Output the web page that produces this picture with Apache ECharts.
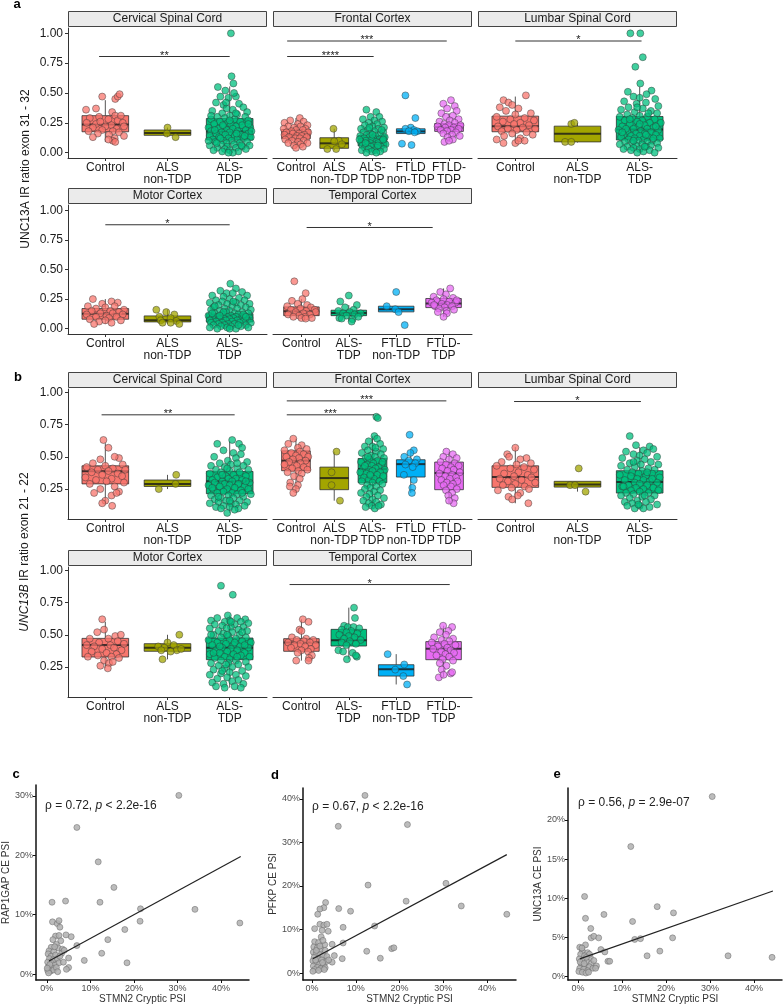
<!DOCTYPE html>
<html><head><meta charset="utf-8">
<script src="https://cdn.jsdelivr.net/npm/echarts@6/dist/echarts.min.js"></script>
<style>html,body{margin:0;padding:0;background:#fff}#c{width:784px;height:1006px}</style>
</head><body><div id="c"></div>
<script>
// ================= DATA =================
const cats3 = ['Control','ALS non-TDP','ALS-TDP'];
const cats5 = ['Control','ALS non-TDP','ALS-TDP','FTLD non-TDP','FTLD-TDP'];
const catsTemporal = ['Control','ALS-TDP','FTLD non-TDP','FTLD-TDP'];
const yTicksA = [0,0.25,0.5,0.75,1];
const yTicksB = [0.25,0.5,0.75,1];

// box stats per category: [min, q1, median, q3, max]
const aCervBox = [[0.09,0.175,0.235,0.31,0.44],[0.13,0.145,0.165,0.19,0.21],[0,0.106,0.178,0.286,0.555]];
const aFrontBox = [[0.04,0.117,0.153,0.194,0.29],[0.02,0.036,0.078,0.125,0.2],[0,0.056,0.097,0.144,0.27],[0.155,0.16,0.178,0.2,0.21],[0.09,0.178,0.214,0.244,0.33]];
const aLumbBox = [[0.08,0.175,0.222,0.306,0.47],[0.085,0.09,0.158,0.222,0.25],[0,0.106,0.194,0.303,0.55]];
const aMotorBox = [[0.04,0.08,0.127,0.17,0.25],[0.04,0.057,0.072,0.108,0.16],[0,0.057,0.093,0.127,0.23]];
const aTempBox = [[0.085,0.11,0.147,0.184,0.25],[0.06,0.11,0.133,0.156,0.2],[0.14,0.142,0.165,0.19,0.19],[0.1,0.178,0.212,0.255,0.34]];
const bCervBox = [[0.14,0.29,0.387,0.43,0.605],[0.25,0.27,0.29,0.32,0.36],[0.065,0.214,0.31,0.387,0.62]];
const bFrontBox = [[0.22,0.392,0.47,0.546,0.64],[0.16,0.245,0.335,0.42,0.54],[0.1,0.3,0.405,0.487,0.66],[0.22,0.343,0.443,0.477,0.55],[0.14,0.245,0.374,0.459,0.54]];
const bLumbBox = [[0.14,0.263,0.343,0.43,0.575],[0.23,0.265,0.285,0.31,0.31],[0.1,0.219,0.304,0.392,0.575]];
const bMotorBox = [[0.24,0.328,0.42,0.472,0.6],[0.31,0.372,0.4,0.431,0.5],[0.09,0.307,0.4,0.475,0.65]];
const bTempBox = [[0.3,0.372,0.441,0.47,0.62],[0.31,0.413,0.457,0.542,0.71],[0.115,0.18,0.232,0.268,0.35],[0.17,0.307,0.392,0.447,0.57]];

// jittered points: [x (category index + jitter), value]
const aCervPts = [
[-0.05,0.47],[0.16,0.45],[0.2,0.47],[0.23,0.49],[-0.31,0.36],[-0.15,0.37],[0.11,0.34],[0.16,0.31],
[-0.25,0.29],[-0.1,0.3],[0.05,0.28],[0.2,0.27],[-0.3,0.25],[0.28,0.25],[-0.15,0.24],[0.1,0.23],[0.0,0.22],
[-0.2,0.21],[0.18,0.2],[0.3,0.22],[-0.05,0.19],[0.12,0.18],[-0.27,0.18],[0.22,0.17],[-0.12,0.16],[0.06,0.15],
[0.3,0.14],[-0.2,0.13],[0.15,0.12],[0.12,0.1],[0.16,0.09],[0.05,0.11],[-0.08,0.26],[0.25,0.31],
[1.0,0.21],[0.99,0.16],[1.13,0.13],
[2.02,1.0],[2.03,0.64],[2.06,0.58],[1.81,0.55],[1.93,0.52],[2.1,0.47],[1.85,0.47],[1.98,0.46],[1.78,0.42],[2.15,0.41],
[1.9,0.4],[2.22,0.38],[1.95,0.37],[2.05,0.36],[1.72,0.35],[2.28,0.34],[1.88,0.33],[2.12,0.32],[2.0,0.31],[1.8,0.3],
[2.25,0.3],[1.92,0.29],[2.08,0.28],[1.7,0.28],[2.3,0.27],[1.84,0.26],[2.17,0.26],[1.97,0.25],[2.02,0.24],[1.75,0.24],
[2.2,0.23],[1.9,0.22],[2.1,0.22],[1.66,0.21],[2.33,0.21],[1.82,0.2],[2.05,0.2],[1.95,0.19],[2.26,0.19],[1.7,0.18],
[2.13,0.18],[1.87,0.17],[2.0,0.17],[2.3,0.16],[1.78,0.16],[2.18,0.15],[1.93,0.15],[1.68,0.14],[2.08,0.14],[2.34,0.13],
[1.83,0.13],[1.98,0.12],[2.22,0.12],[1.73,0.11],[2.12,0.11],[1.9,0.1],[2.03,0.1],[2.28,0.09],[1.77,0.09],[1.95,0.08],
[2.16,0.08],[1.86,0.07],[2.07,0.07],[1.68,0.06],[2.32,0.06],[1.96,0.05],[2.2,0.05],[1.8,0.04],[2.1,0.04],[1.92,0.03],
[2.26,0.03],[2.0,0.02],[1.74,0.02],[2.14,0.01],[1.88,0.01],[2.05,0.0],[1.98,0.0],[2.3,0.24],[1.7,0.31],[2.24,0.14],
[1.76,0.19],[2.0,0.27],[2.35,0.18],[1.66,0.1],[2.1,0.33],[1.85,0.12],[2.19,0.06],[1.94,0.42],[2.07,0.5],[1.89,0.23],
[2.11,0.16],[1.79,0.08]];
const aFrontPts = [
[0.1,0.29],[-0.15,0.27],[0.2,0.26],[-0.3,0.25],[0.05,0.24],[0.3,0.23],[-0.2,0.22],[0.12,0.22],[-0.05,0.21],[0.25,0.2],
[-0.32,0.2],[0.0,0.19],[0.18,0.19],[-0.12,0.18],[0.32,0.17],[-0.25,0.17],[0.08,0.16],[-0.08,0.16],[0.22,0.15],[-0.3,0.15],
[0.03,0.14],[0.15,0.14],[-0.18,0.13],[0.28,0.13],[-0.02,0.12],[0.1,0.12],[-0.28,0.11],[0.2,0.1],[-0.1,0.1],[0.05,0.09],
[-0.2,0.08],[0.3,0.08],[0.12,0.07],[-0.05,0.06],[0.0,0.04],[0.18,0.05],
[0.98,0.2],[1.12,0.1],[1.0,0.095],[0.82,0.03],[1.05,0.03],[1.2,0.07],
[1.84,0.36],[2.1,0.34],[2.18,0.3],[1.95,0.3],[1.75,0.28],[2.05,0.27],[2.25,0.26],[1.9,0.25],[2.12,0.24],[1.8,0.23],
[2.0,0.22],[2.3,0.21],[1.7,0.2],[2.15,0.2],[1.88,0.19],[2.05,0.18],[2.28,0.17],[1.76,0.17],[1.95,0.16],[2.2,0.15],
[1.85,0.15],[2.08,0.14],[1.68,0.14],[2.32,0.13],[1.92,0.13],[2.02,0.12],[1.78,0.12],[2.18,0.11],[1.98,0.11],[2.26,0.1],
[1.83,0.1],[2.1,0.09],[1.7,0.09],[1.94,0.08],[2.15,0.08],[2.34,0.07],[1.86,0.07],[2.04,0.06],[1.74,0.06],[2.22,0.05],
[1.96,0.05],[2.12,0.04],[1.8,0.04],[2.3,0.03],[1.9,0.03],[2.06,0.02],[1.72,0.02],[2.2,0.01],[1.98,0.01],[1.84,0.0],
[2.1,0.0],[2.0,0.15],[2.28,0.11],[1.66,0.11],[1.92,0.21],[2.14,0.06],[1.82,0.08],[2.24,0.19],
[2.86,0.48],[3.12,0.29],[3.0,0.21],[2.86,0.2],[3.08,0.19],[3.17,0.18],[2.95,0.18],[3.1,0.17],[2.77,0.075],[3.02,0.064],
[4.05,0.44],[3.85,0.41],[4.15,0.39],[3.95,0.37],[4.2,0.35],[3.8,0.33],[4.1,0.31],[3.92,0.3],[4.25,0.28],[4.02,0.27],
[3.75,0.26],[4.15,0.25],[3.88,0.24],[4.3,0.23],[4.0,0.23],[3.7,0.22],[4.12,0.21],[3.9,0.21],[4.25,0.2],[4.05,0.19],
[3.78,0.19],[3.95,0.18],[4.18,0.17],[3.85,0.16],[4.08,0.15],[4.28,0.14],[3.96,0.13],[4.1,0.11],[3.88,0.09],[4.0,0.1]];
const aLumbPts = [
[0.17,0.48],[-0.19,0.44],[-0.11,0.42],[-0.05,0.4],[-0.25,0.38],[0.05,0.37],[-0.15,0.35],[0.25,0.33],[0.0,0.32],[-0.3,0.3],
[0.15,0.29],[-0.08,0.28],[0.3,0.27],[-0.2,0.26],[0.08,0.25],[-0.02,0.24],[0.22,0.23],[-0.28,0.22],[0.12,0.21],[-0.12,0.2],
[0.32,0.2],[0.02,0.19],[-0.22,0.18],[0.18,0.17],[-0.05,0.16],[0.28,0.15],[-0.18,0.14],[0.08,0.12],[-0.3,0.11],[0.15,0.1],
[-0.19,0.08],[0.0,0.08],[0.05,0.1],
[0.9,0.24],[0.95,0.25],[0.8,0.09],[0.9,0.09],
[1.85,1.0],[2.01,1.0],[2.05,0.8],[1.93,0.72],[2.01,0.58],[1.81,0.51],[2.19,0.52],[2.11,0.49],[1.9,0.47],[2.25,0.45],
[2.0,0.46],[1.75,0.43],[2.1,0.42],[1.95,0.41],[2.3,0.39],[1.82,0.38],[2.05,0.37],[1.7,0.36],[2.18,0.35],[1.92,0.34],
[2.28,0.33],[1.8,0.32],[2.0,0.31],[2.12,0.3],[1.68,0.3],[1.88,0.29],[2.24,0.28],[2.04,0.27],[1.76,0.27],[1.96,0.26],
[2.16,0.25],[2.34,0.25],[1.84,0.24],[2.08,0.23],[1.72,0.22],[1.98,0.22],[2.22,0.21],[1.9,0.2],[2.12,0.2],[1.66,0.19],
[2.3,0.19],[2.02,0.18],[1.8,0.18],[2.18,0.17],[1.94,0.16],[2.08,0.16],[1.74,0.15],[2.26,0.15],[1.86,0.14],[2.0,0.14],
[2.14,0.13],[1.7,0.13],[2.32,0.12],[1.92,0.12],[2.06,0.11],[1.82,0.11],[2.2,0.1],[1.98,0.1],[1.76,0.09],[2.12,0.09],
[2.28,0.08],[1.88,0.08],[2.04,0.07],[1.68,0.07],[2.18,0.06],[1.94,0.06],[1.8,0.05],[2.1,0.05],[2.3,0.04],[1.9,0.04],
[2.0,0.03],[1.74,0.03],[2.16,0.02],[1.86,0.02],[2.06,0.01],[1.96,0.0],[2.24,0.0],[2.0,0.24],[1.78,0.2],[2.26,0.22],
[1.9,0.1],[2.1,0.15],[1.84,0.28],[2.14,0.33],[1.96,0.38],[2.22,0.12],[1.72,0.17],[2.08,0.05]];
const aMotorPts = [
[-0.2,0.25],[0.1,0.23],[0.2,0.22],[-0.05,0.21],[-0.28,0.19],[0.15,0.19],[0.0,0.18],[-0.15,0.17],[0.3,0.16],[0.08,0.15],
[-0.22,0.15],[0.22,0.14],[-0.08,0.13],[0.12,0.13],[0.28,0.12],[-0.3,0.12],[0.02,0.11],[-0.15,0.1],[0.18,0.1],[0.06,0.09],
[-0.25,0.08],[0.25,0.07],[-0.1,0.06],[0.1,0.05],[-0.18,0.04],[0.0,0.07],
[0.82,0.16],[0.98,0.14],[1.11,0.12],[0.87,0.1],[1.05,0.09],[0.89,0.07],[1.14,0.065],[0.92,0.05],[1.05,0.05],[1.19,0.04],
[2.01,0.38],[2.1,0.34],[1.85,0.32],[2.2,0.31],[1.95,0.3],[2.05,0.3],[1.72,0.28],[2.28,0.28],[1.9,0.27],[2.15,0.26],
[2.0,0.25],[1.78,0.24],[2.24,0.24],[1.88,0.23],[2.1,0.22],[1.68,0.22],[2.32,0.21],[1.96,0.21],[1.82,0.2],[2.18,0.2],
[2.04,0.19],[1.74,0.18],[2.26,0.18],[1.92,0.17],[2.12,0.17],[1.7,0.16],[2.34,0.16],[2.0,0.15],[1.84,0.15],[2.2,0.14],
[1.94,0.14],[2.08,0.13],[1.76,0.13],[2.3,0.13],[1.88,0.12],[2.14,0.12],[2.02,0.11],[1.66,0.11],[2.24,0.11],[1.8,0.1],
[1.96,0.1],[2.1,0.1],[2.32,0.09],[1.72,0.09],[1.9,0.09],[2.06,0.09],[2.18,0.08],[1.84,0.08],[2.0,0.08],[1.68,0.07],
[2.28,0.07],[1.94,0.07],[2.12,0.07],[1.78,0.06],[2.04,0.06],[2.22,0.06],[1.88,0.05],[1.7,0.05],[2.16,0.05],[2.34,0.05],
[1.98,0.04],[1.82,0.04],[2.08,0.04],[2.26,0.03],[1.92,0.03],[1.74,0.03],[2.02,0.02],[2.18,0.02],[1.86,0.02],[2.3,0.01],
[1.96,0.01],[1.68,0.01],[2.1,0.0],[1.8,0.0],[2.0,0.0],[2.22,0.12],[1.76,0.19],[2.06,0.23],[1.9,0.14],[2.14,0.03],
[1.84,0.11],[2.26,0.1],[1.72,0.13]];
const aTempPts = [
[-0.15,0.4],[0.09,0.3],[-0.2,0.235],[0.02,0.25],[-0.08,0.21],[0.12,0.2],[-0.3,0.19],[0.2,0.18],[-0.02,0.17],[0.28,0.16],
[-0.22,0.16],[0.1,0.15],[-0.12,0.14],[0.3,0.14],[0.04,0.13],[-0.28,0.12],[0.18,0.12],[-0.05,0.11],[0.08,0.1],[-0.17,0.1],
[0.22,0.09],[0.0,0.09],[0.09,0.085],
[1.0,0.28],[0.82,0.23],[1.17,0.2],[0.92,0.18],[1.1,0.16],[0.78,0.15],[1.02,0.14],[1.25,0.13],[0.88,0.13],[1.12,0.12],
[0.95,0.11],[0.8,0.09],[1.08,0.08],[0.85,0.085],[1.2,0.1],[1.06,0.06],
[2.0,0.31],[1.8,0.19],[1.98,0.165],[2.05,0.14],[2.18,0.03],
[3.14,0.34],[2.93,0.31],[3.05,0.29],[2.79,0.27],[3.2,0.26],[3.0,0.25],[2.85,0.24],[3.12,0.23],[2.75,0.22],[3.25,0.22],
[2.96,0.21],[3.08,0.2],[2.82,0.19],[3.18,0.19],[3.02,0.18],[2.9,0.17],[3.22,0.16],[3.06,0.15],[2.88,0.14],[3.07,0.13],
[3.0,0.1],[3.28,0.24],[2.8,0.2]];
const bCervPts = [
[-0.03,0.63],[0.05,0.57],[0.22,0.49],[-0.08,0.48],[0.15,0.5],[-0.2,0.45],[0.28,0.44],[0.0,0.43],[-0.3,0.42],[0.12,0.41],
[-0.12,0.4],[0.32,0.4],[0.05,0.39],[-0.22,0.38],[0.2,0.37],[-0.05,0.36],[0.27,0.35],[-0.32,0.34],[0.1,0.33],[-0.15,0.32],
[0.02,0.31],[0.3,0.3],[-0.25,0.29],[0.15,0.27],[-0.08,0.25],[0.22,0.23],[-0.18,0.22],[0.1,0.2],[0.18,0.22],[0.0,0.16],
[-0.05,0.14],[0.11,0.12],
[1.14,0.36],[1.13,0.29],[0.86,0.25],
[2.04,0.63],[2.15,0.6],[1.8,0.6],[2.2,0.57],[2.06,0.53],[2.18,0.52],[1.9,0.55],[1.75,0.5],[2.1,0.49],[1.97,0.47],
[2.28,0.46],[1.84,0.45],[2.02,0.44],[1.7,0.43],[2.22,0.43],[1.92,0.42],[2.12,0.41],[1.78,0.4],[2.3,0.4],[2.0,0.39],
[1.86,0.38],[2.16,0.38],[1.68,0.37],[2.06,0.36],[1.94,0.35],[2.26,0.35],[1.8,0.34],[2.1,0.33],[1.98,0.33],[1.72,0.32],
[2.2,0.32],[1.88,0.31],[2.04,0.31],[2.32,0.3],[1.76,0.3],[2.14,0.29],[1.92,0.29],[2.0,0.28],[1.66,0.28],[2.24,0.27],
[1.84,0.27],[2.08,0.26],[1.96,0.25],[2.3,0.25],[1.74,0.24],[2.18,0.24],[1.9,0.23],[2.04,0.22],[1.8,0.22],[2.12,0.21],
[2.34,0.21],[1.7,0.2],[1.98,0.2],[2.22,0.19],[1.86,0.18],[2.06,0.18],[1.76,0.17],[2.16,0.16],[1.94,0.16],[2.28,0.15],
[1.82,0.15],[2.02,0.14],[1.68,0.14],[2.1,0.13],[1.9,0.12],[2.24,0.12],[1.78,0.11],[2.0,0.11],[2.14,0.1],[1.86,0.1],
[1.96,0.065],[2.08,0.09],[1.72,0.26],[2.26,0.31],[1.88,0.36],[2.12,0.45],[1.96,0.41],[1.82,0.19],[2.2,0.22],[2.0,0.16]];
const bFrontPts = [
[-0.07,0.64],[0.15,0.59],[-0.2,0.6],[0.05,0.57],[0.28,0.56],[-0.3,0.55],[0.1,0.54],[-0.12,0.53],[0.2,0.52],[0.0,0.51],
[-0.25,0.5],[0.32,0.5],[0.08,0.49],[-0.08,0.48],[0.25,0.47],[-0.18,0.46],[0.12,0.45],[-0.3,0.44],[0.02,0.43],[0.2,0.42],
[-0.1,0.41],[0.3,0.4],[0.06,0.39],[-0.22,0.38],[0.15,0.37],[-0.05,0.35],[0.1,0.33],[-0.15,0.3],[0.05,0.28],[-0.16,0.27],
[0.0,0.25],[-0.07,0.22],
[1.06,0.54],[0.93,0.38],[0.93,0.28],[1.15,0.16],
[2.1,0.81],[2.14,0.8],[2.05,0.66],[2.12,0.64],[1.9,0.62],[2.2,0.6],[1.8,0.58],[2.0,0.58],[2.28,0.56],[1.88,0.55],
[2.1,0.54],[1.72,0.53],[2.22,0.52],[1.96,0.51],[2.06,0.5],[1.82,0.49],[2.3,0.49],[1.92,0.48],[2.14,0.47],[1.7,0.46],
[2.02,0.45],[2.24,0.44],[1.86,0.44],[1.98,0.43],[2.16,0.42],[1.76,0.41],[2.08,0.41],[2.32,0.4],[1.9,0.4],[2.0,0.39],
[1.68,0.38],[2.2,0.38],[1.84,0.37],[2.12,0.36],[1.96,0.35],[2.28,0.35],[1.78,0.34],[2.04,0.33],[1.9,0.32],[2.18,0.31],
[1.72,0.31],[2.0,0.3],[2.26,0.29],[1.86,0.28],[2.1,0.27],[1.94,0.26],[1.8,0.25],[2.2,0.24],[2.04,0.23],[1.7,0.22],
[1.92,0.21],[2.14,0.2],[1.84,0.19],[2.3,0.18],[2.0,0.17],[1.76,0.16],[2.1,0.15],[1.9,0.14],[2.22,0.13],[1.98,0.12],
[1.82,0.11],[2.06,0.1],[2.16,0.12],[1.88,0.5],[2.08,0.57],[1.8,0.43],[2.26,0.46],[1.94,0.36],
[2.97,0.67],[3.08,0.55],[2.99,0.53],[2.83,0.5],[3.16,0.48],[2.95,0.47],[3.12,0.45],[2.86,0.44],[3.05,0.42],[2.82,0.36],
[3.08,0.32],[3.04,0.26],[3.03,0.22],
[3.93,0.54],[4.1,0.52],[3.85,0.5],[4.2,0.49],[4.0,0.48],[3.78,0.46],[4.15,0.45],[3.92,0.44],[4.25,0.43],[4.05,0.42],
[3.82,0.41],[4.12,0.4],[3.96,0.39],[4.28,0.38],[3.75,0.37],[4.08,0.36],[3.9,0.35],[4.18,0.34],[4.02,0.33],[3.8,0.32],
[4.22,0.31],[3.94,0.3],[4.1,0.29],[3.86,0.28],[4.05,0.27],[4.2,0.25],[3.92,0.24],[4.08,0.22],[3.98,0.2],[4.15,0.18],
[4.12,0.14],[4.0,0.16]];
const bLumbPts = [
[0.0,0.57],[-0.13,0.52],[-0.1,0.5],[0.18,0.49],[0.08,0.48],[-0.22,0.46],[0.25,0.45],[0.02,0.44],[-0.3,0.43],[0.14,0.42],
[-0.08,0.41],[0.3,0.4],[0.05,0.38],[-0.18,0.37],[0.2,0.36],[-0.02,0.35],[0.26,0.34],[-0.25,0.33],[0.1,0.32],[-0.12,0.31],
[0.32,0.3],[0.0,0.29],[-0.2,0.28],[0.15,0.27],[-0.06,0.26],[0.22,0.25],[-0.28,0.24],[0.08,0.22],[-0.11,0.19],[-0.05,0.17],
[0.21,0.14],[0.04,0.2],
[1.02,0.41],[0.88,0.28],[0.96,0.28],[1.13,0.23],
[1.84,0.66],[1.94,0.59],[2.16,0.58],[2.22,0.56],[2.06,0.55],[1.78,0.54],[2.12,0.53],[1.9,0.52],[2.0,0.51],[2.28,0.5],
[1.72,0.49],[2.08,0.48],[1.96,0.47],[2.18,0.46],[1.84,0.45],[2.3,0.44],[2.02,0.44],[1.7,0.43],[1.92,0.42],[2.14,0.41],
[1.8,0.4],[2.24,0.4],[2.04,0.39],[1.88,0.38],[1.98,0.37],[2.2,0.37],[1.68,0.36],[2.1,0.35],[1.86,0.35],[2.32,0.34],
[1.96,0.33],[2.06,0.32],[1.76,0.32],[2.16,0.31],[1.92,0.3],[2.28,0.3],[2.0,0.29],[1.82,0.28],[2.12,0.28],[1.72,0.27],
[2.22,0.26],[1.94,0.26],[2.06,0.25],[1.86,0.24],[2.3,0.24],[2.0,0.23],[1.78,0.22],[2.14,0.22],[1.9,0.21],[2.24,0.2],
[1.7,0.2],[2.04,0.19],[1.84,0.18],[2.18,0.17],[1.96,0.16],[1.76,0.15],[2.1,0.15],[1.88,0.14],[2.28,0.13],[2.0,0.12],
[1.8,0.12],[2.16,0.11],[1.92,0.1],[2.06,0.1],[1.74,0.27],[2.2,0.33],[1.9,0.46],[2.08,0.2],[1.98,0.13],[2.12,0.38]];
const bMotorPts = [
[-0.05,0.62],[-0.02,0.54],[-0.13,0.52],[0.16,0.49],[0.25,0.5],[-0.25,0.47],[0.05,0.47],[0.2,0.45],[-0.1,0.44],[0.3,0.43],
[-0.3,0.42],[0.08,0.42],[-0.18,0.41],[0.14,0.4],[-0.05,0.39],[0.26,0.38],[-0.22,0.37],[0.02,0.36],[0.18,0.35],[-0.12,0.34],
[0.1,0.33],[-0.28,0.33],[0.22,0.32],[-0.02,0.3],[0.06,0.28],[-0.08,0.26],[0.04,0.24],[0.12,0.29],
[1.19,0.5],[1.0,0.44],[1.1,0.42],[0.85,0.41],[0.95,0.4],[1.15,0.38],[1.05,0.37],[0.92,0.31],[1.22,0.39],[0.9,0.38],
[1.86,0.88],[2.05,0.81],[1.97,0.65],[1.8,0.63],[2.12,0.63],[2.25,0.62],[1.7,0.61],[2.0,0.61],[1.92,0.6],[2.18,0.6],
[2.3,0.59],[1.76,0.58],[2.08,0.58],[1.88,0.57],[2.02,0.56],[2.22,0.56],[1.68,0.55],[1.95,0.55],[2.14,0.54],[1.82,0.53],
[2.28,0.53],[2.04,0.52],[1.9,0.51],[2.16,0.5],[1.74,0.5],[1.98,0.49],[2.26,0.48],[1.86,0.48],[2.1,0.47],[1.66,0.46],
[2.0,0.46],[2.2,0.45],[1.8,0.44],[2.34,0.44],[1.94,0.43],[2.06,0.42],[1.72,0.42],[2.16,0.41],[1.88,0.4],[2.3,0.4],
[2.02,0.39],[1.78,0.38],[2.12,0.38],[1.96,0.37],[2.24,0.36],[1.84,0.36],[1.68,0.35],[2.06,0.35],[2.18,0.34],[1.92,0.33],
[2.32,0.33],[1.76,0.32],[2.0,0.31],[2.1,0.3],[1.86,0.3],[2.26,0.29],[1.7,0.28],[1.98,0.28],[2.14,0.27],[1.82,0.26],
[2.04,0.25],[2.3,0.25],[1.92,0.24],[1.74,0.23],[2.2,0.22],[2.0,0.21],[1.86,0.2],[2.1,0.19],[1.68,0.19],[2.26,0.18],
[1.96,0.17],[1.8,0.16],[2.14,0.15],[2.04,0.14],[1.72,0.13],[2.22,0.12],[1.9,0.12],[1.78,0.1],[2.08,0.1],[2.18,0.09],
[1.92,0.09],[1.96,0.5],[2.08,0.44],[1.84,0.41],[2.2,0.52],[1.74,0.36],[2.12,0.33],[1.94,0.27],[2.02,0.6],[1.88,0.22],
[2.24,0.42],[1.7,0.5]];
const bTempPts = [
[0.03,0.62],[0.15,0.6],[-0.04,0.54],[0.0,0.53],[-0.2,0.48],[0.1,0.47],[0.25,0.46],[-0.1,0.46],[0.05,0.45],[-0.28,0.44],
[0.18,0.44],[-0.02,0.43],[0.3,0.42],[-0.15,0.42],[0.08,0.41],[-0.22,0.4],[0.2,0.39],[0.0,0.38],[0.14,0.37],[-0.08,0.36],
[0.22,0.34],[0.16,0.32],[-0.11,0.3],[0.15,0.3],
[1.11,0.71],[1.13,0.63],[0.9,0.57],[0.98,0.56],[1.1,0.56],[1.22,0.55],[0.85,0.54],[1.05,0.53],[0.95,0.52],[1.18,0.51],
[0.8,0.5],[1.0,0.49],[1.12,0.48],[0.9,0.47],[1.25,0.46],[1.02,0.45],[0.85,0.44],[1.15,0.43],[0.95,0.42],[0.78,0.38],
[0.88,0.37],[1.08,0.36],[1.17,0.33],[1.15,0.34],[0.96,0.31],
[1.82,0.35],[2.17,0.27],[1.98,0.23],[2.15,0.18],[2.23,0.115],
[2.99,0.57],[3.18,0.56],[3.1,0.53],[2.92,0.52],[3.05,0.5],[2.8,0.48],[3.2,0.47],[2.96,0.46],[3.12,0.45],[2.75,0.44],
[3.02,0.43],[3.25,0.42],[2.88,0.41],[3.08,0.4],[2.78,0.39],[3.15,0.38],[2.95,0.37],[3.22,0.36],[3.04,0.35],[2.85,0.34],
[3.12,0.33],[2.98,0.31],[3.2,0.3],[2.92,0.28],[3.06,0.26],[2.96,0.23],[3.15,0.2],[3.18,0.21],[2.9,0.17],[3.0,0.19]];

// significance bars: [x from, x to, y, label]
const aCervSig = [[-0.1,2,0.806,'**']];
const aFrontSig = [[-0.23,3.94,0.936,'***'],[-0.23,2.03,0.806,'****']];
const aLumbSig = [[0,2.03,0.936,'*']];
const aMotorSig = [[0,2,0.878,'*']];
const aTempSig = [[0.11,2.77,0.855,'*']];
const bCervSig = [[-0.06,2.08,0.825,'**']];
const bFrontSig = [[-0.24,3.93,0.933,'***'],[-0.24,2.04,0.825,'***']];
const bLumbSig = [[-0.02,2.02,0.928,'*']];
const bMotorSig = [];
const bTempSig = [[-0.25,3.13,0.889,'*']];

// scatter panels c, d, e  (STMN2 cryptic PSI %, CE PSI %)
const cPts = [[30.3,30.1],[6.9,24.7],[11.8,18.9],[15.4,14.6],[1.2,12.1],[4.3,12.3],[12.2,12.1],[21.5,11.0],[34.0,10.9],[44.3,8.6],
[21.4,8.9],[17.9,7.5],[14.0,5.8],[12.6,3.5],[8.6,2.3],[18.4,1.9],[6.9,4.8],[5.6,6.3],[4.4,6.6],[5.0,2.7],[5.0,1.1],[4.5,0.8],
[1.3,8.8],[2.4,8.5],[2.8,9.0],[3.0,7.9],[2.0,6.4],[2.8,6.5],[1.4,5.8],[3.2,5.6],[2.2,5.0],[1.0,4.5],[2.6,4.4],[3.6,4.2],
[0.5,3.9],[1.6,3.8],[0.3,3.4],[1.0,3.0],[2.0,3.2],[3.4,3.5],[0.6,2.6],[1.5,2.4],[2.4,2.6],[0.2,2.0],[1.1,1.8],[1.9,1.5],
[2.8,1.9],[0.4,1.2],[1.3,1.0],[0.2,0.6],[0.9,0.5],[1.6,0.7],[0.4,0.2],[2.2,1.1],[3.8,2.0],[1.8,4.6],[3.0,3.0],[0.7,1.6],
[2.5,0.4],[4.0,4.0],[0.1,1.0]];
const dPts = [[12.1,40.8],[6.0,33.7],[21.8,34.1],[12.8,20.2],[30.6,20.6],[21.5,16.5],[34.1,15.4],[44.5,13.5],[8.8,14.2],[6.1,14.8],
[3.1,16.2],[2.7,15.0],[1.8,14.7],[1.3,13.5],[1.8,11.2],[2.7,11.0],[3.4,11.2],[3.7,9.6],[2.3,9.8],[0.6,10.2],[7.1,10.5],
[14.3,10.8],[2.1,8.3],[0.6,7.2],[2.9,6.5],[4.6,6.6],[7.1,6.9],[12.5,5.0],[18.2,5.6],[18.7,5.8],[5.1,4.0],[6.9,3.3],
[15.6,3.4],[4.6,2.5],[1.5,7.0],[2.5,7.5],[0.4,6.0],[1.2,5.8],[2.0,5.5],[3.0,5.2],[0.3,4.8],[1.0,4.5],[1.8,4.2],[2.6,4.0],
[3.4,3.8],[0.5,3.6],[1.4,3.2],[2.2,3.0],[0.2,2.8],[3.2,2.6],[0.9,2.4],[1.7,2.0],[2.6,1.8],[0.3,1.6],[1.2,1.3],[2.0,1.0],
[0.6,0.8],[1.5,0.6],[0.2,0.4],[3.0,1.2],[2.4,2.4],[1.0,5.2],[0.8,3.0],[3.8,3.0],[2.8,0.8],[1.8,6.2]];
const ePts = [[30.5,23.0],[12.0,16.6],[1.5,10.2],[1.7,7.4],[5.9,7.9],[18.0,8.9],[21.7,8.1],[12.4,7.0],[2.9,6.1],[3.0,4.9],
[3.6,5.1],[4.7,4.9],[12.9,4.7],[14.2,4.8],[21.5,4.9],[1.7,4.0],[5.2,3.4],[6.1,3.1],[18.6,3.2],[15.7,2.6],[34.1,2.6],
[44.1,2.4],[6.8,1.9],[7.2,1.9],[0.4,3.7],[1.0,3.2],[2.2,3.0],[0.6,2.8],[1.5,2.6],[2.8,2.4],[0.3,2.2],[1.2,2.0],[2.0,1.8],
[3.0,1.6],[0.8,1.5],[1.6,1.3],[2.6,1.2],[0.4,1.0],[1.3,0.9],[2.2,0.7],[3.4,1.0],[0.2,0.6],[1.0,0.5],[1.8,0.4],[4.2,1.3],
[2.6,2.8],[0.5,1.8],[1.9,2.4],[3.6,2.0],[0.9,3.6],[2.4,0.5],[4.0,1.0],[1.4,1.6]];
const cFit = [[0.5,2.2],[44.5,19.8]];
const dFit = [[0.2,3.3],[44.5,27.2]];
const eFit = [[0.4,2.2],[44.3,10.9]];
const cTicksX = [0,10,20,30,40];
const cTicksY = [0,10,20,30];
const dTicksY = [0,10,20,30,40];
const eTicksY = [0,5,10,15,20];

// ================= RENDER =================
const FONT = 'Liberation Sans, Arial, Helvetica, sans-serif';
const colorMap = {'Control':'#F8766D','ALS non-TDP':'#A3A500','ALS-TDP':'#00BF7D','FTLD non-TDP':'#00B0F6','FTLD-TDP':'#E76BF3'};
const catLabel = {'Control':'Control','ALS non-TDP':'ALS\nnon-TDP','ALS-TDP':'ALS-\nTDP','FTLD non-TDP':'FTLD\nnon-TDP','FTLD-TDP':'FTLD-\nTDP'};

const facets = [
  {title:'Cervical Spinal Cord', cats:cats3, pts:aCervPts, box:aCervBox, sig:aCervSig, col:0, row:0},
  {title:'Frontal Cortex', cats:cats5, pts:aFrontPts, box:aFrontBox, sig:aFrontSig, col:1, row:0},
  {title:'Lumbar Spinal Cord', cats:cats3, pts:aLumbPts, box:aLumbBox, sig:aLumbSig, col:2, row:0},
  {title:'Motor Cortex', cats:cats3, pts:aMotorPts, box:aMotorBox, sig:aMotorSig, col:0, row:1},
  {title:'Temporal Cortex', cats:catsTemporal, pts:aTempPts, box:aTempBox, sig:aTempSig, col:1, row:1},
  {title:'Cervical Spinal Cord', cats:cats3, pts:bCervPts, box:bCervBox, sig:bCervSig, col:0, row:2},
  {title:'Frontal Cortex', cats:cats5, pts:bFrontPts, box:bFrontBox, sig:bFrontSig, col:1, row:2},
  {title:'Lumbar Spinal Cord', cats:cats3, pts:bLumbPts, box:bLumbBox, sig:bLumbSig, col:2, row:2},
  {title:'Motor Cortex', cats:cats3, pts:bMotorPts, box:bMotorBox, sig:bMotorSig, col:0, row:3},
  {title:'Temporal Cortex', cats:catsTemporal, pts:bTempPts, box:bTempBox, sig:bTempSig, col:1, row:3}
];
const colLeft = [68,273,478], colWidth = 199;
const rowTop = [28,205,389,567], rowHeight = [130,129,130,130];
const rowRange = [[-0.045,1.045],[-0.045,1.045],[0.018,1.025],[0.018,1.025]];
const rowTicks = [yTicksA,yTicksA,yTicksB,yTicksB];

const grids=[], xAxes=[], yAxes=[], series=[], graphics=[];
const axisCol = '#333';

facets.forEach((f,i)=>{
  const left=colLeft[f.col], top=rowTop[f.row], h=rowHeight[f.row];
  grids.push({left:left, top:top, width:colWidth, height:h});
  const n=f.cats.length, idx=f.cats.map((c,k)=>k);
  const even=idx.filter(k=>k%2===0), odd=idx.filter(k=>k%2===1);
  const xi = xAxes.length;
  const lblBase = {interval:0, showMinLabel:true, showMaxLabel:true, hideOverlap:false, formatter:v=>catLabel[f.cats[Math.round(v)]], fontSize:12, color:'#1a1a1a', margin:4, lineHeight:12, fontFamily:FONT};
  // main axis (even-index labels) + companion axis (odd-index labels) so adjacent labels never collide
  xAxes.push({gridIndex:i, type:'value', position:'bottom', offset:0, min:-0.6, max:n-0.4,
    axisLine:{onZero:false, lineStyle:{color:axisCol, width:1}},
    axisTick:{customValues:idx, length:3, lineStyle:{color:axisCol}},
    axisLabel:Object.assign({customValues:even}, lblBase),
    splitLine:{show:false}});
  xAxes.push({gridIndex:i, type:'value', position:'bottom', offset:0, min:-0.6, max:n-0.4,
    axisLine:{show:false, onZero:false}, axisTick:{show:false},
    axisLabel:Object.assign({customValues:odd}, lblBase),
    splitLine:{show:false}});
  yAxes.push({gridIndex:i, type:'value', min:rowRange[f.row][0], max:rowRange[f.row][1], show:f.col===0,
    axisLine:{onZero:false, lineStyle:{color:axisCol, width:1}},
    axisTick:{customValues:rowTicks[f.row], length:3, lineStyle:{color:axisCol}},
    axisLabel:{customValues:rowTicks[f.row], showMinLabel:true, showMaxLabel:true, formatter:v=>v.toFixed(2), fontSize:12, color:'#1a1a1a', margin:5, fontFamily:FONT},
    splitLine:{show:false}});
  // boxes
  series.push({type:'custom', xAxisIndex:xi, yAxisIndex:i, z:2, silent:true,
    data:f.box.map((b,k)=>[k].concat(b)),
    renderItem:(params,api)=>{
      const k=api.value(0);
      const p=[1,2,3,4,5].map(j=>api.coord([k,api.value(j)]));
      const hw=api.size([0.75,0])[0]/2;
      const col=colorMap[f.cats[k]];
      return {type:'group', children:[
        {type:'line', shape:{x1:p[0][0],y1:p[0][1],x2:p[1][0],y2:p[1][1]}, style:{stroke:'#555',lineWidth:1}},
        {type:'line', shape:{x1:p[3][0],y1:p[3][1],x2:p[4][0],y2:p[4][1]}, style:{stroke:'#555',lineWidth:1}},
        {type:'rect', shape:{x:p[1][0]-hw, y:p[3][1], width:2*hw, height:Math.max(1,p[1][1]-p[3][1])}, style:{fill:col, stroke:'rgba(40,40,40,0.75)', lineWidth:1}},
        {type:'line', shape:{x1:p[2][0]-hw,y1:p[2][1],x2:p[2][0]+hw,y2:p[2][1]}, style:{stroke:'rgba(25,25,25,0.8)',lineWidth:2}}
      ]};
    }});
  // points
  series.push({type:'scatter', xAxisIndex:xi, yAxisIndex:i, z:3, silent:true, data:f.pts, symbolSize:7,
    itemStyle:{color:p=>colorMap[f.cats[Math.round(p.value[0])]], opacity:0.75, borderColor:'#333', borderWidth:0.6}});
  // significance
  if (f.sig.length) series.push({type:'custom', xAxisIndex:xi, yAxisIndex:i, z:4, silent:true,
    data:f.sig.map(s=>[s[0],s[1],s[2]]),
    renderItem:(params,api)=>{
      const a=api.coord([api.value(0),api.value(2)]), b=api.coord([api.value(1),api.value(2)]);
      return {type:'group', children:[
        {type:'line', shape:{x1:a[0],y1:a[1],x2:b[0],y2:b[1]}, style:{stroke:'#333',lineWidth:1}},
        {type:'text', style:{text:f.sig[params.dataIndex][3], x:(a[0]+b[0])/2, y:a[1]-1, align:'center', verticalAlign:'middle', textAlign:'center', textVerticalAlign:'middle', fontSize:11, fill:'#222', fontFamily:FONT}}
      ]};
    }});
  // strip
  graphics.push({type:'rect', shape:{x:left+0.5, y:top-16.5, width:colWidth-1, height:15}, style:{fill:'#ebebeb', stroke:'#444', lineWidth:1}, silent:true});
  graphics.push({type:'text', x:left+colWidth/2, y:top-9, style:{text:f.title, textAlign:'center', textVerticalAlign:'middle', align:'center', verticalAlign:'middle', fontSize:12, fill:'#1a1a1a', fontFamily:FONT}, silent:true});
});

// scatter panels
const scat = [
  {pts:cPts, fit:cFit, grid:{left:35,top:785,width:214,height:195}, x:[-2.5,46.4], y:[-1.0,31.85], yTicks:cTicksY, yName:'RAP1GAP CE PSI', yGap:20, ann:['ρ = 0.72, ',' < 2.2e-16'], annPos:[45,806]},
  {pts:dPts, fit:dFit, grid:{left:303,top:788,width:213,height:192}, x:[-2.06,46.6], y:[-1.6,42.5], yTicks:dTicksY, yName:'PFKP CE PSI', yGap:24, ann:['ρ = 0.67, ',' < 2.2e-16'], annPos:[312,807]},
  {pts:ePts, fit:eFit, grid:{left:568,top:788,width:214,height:192}, x:[-2.27,46.36], y:[-0.5,24.1], yTicks:eTicksY, yName:'UNC13A CE PSI', yGap:22, ann:['ρ = 0.56, ',' = 2.9e-07'], annPos:[578,803]}
];
scat.forEach((s,j)=>{
  const gi = grids.length;
  grids.push(s.grid);
  const xi = xAxes.length, yi = yAxes.length;
  xAxes.push({gridIndex:gi, type:'value', min:s.x[0], max:s.x[1], name:'STMN2 Cryptic PSI', nameLocation:'middle', nameGap:13,
    nameTextStyle:{fontSize:10, color:'#333', fontFamily:FONT},
    axisLine:{onZero:false, lineStyle:{color:'#111', width:1.5}},
    axisTick:{customValues:cTicksX, length:3, lineStyle:{color:'#111'}},
    axisLabel:{customValues:cTicksX, showMinLabel:true, showMaxLabel:true, formatter:v=>v+'%', fontSize:9, color:'#4d4d4d', margin:4, fontFamily:FONT},
    splitLine:{show:false}});
  yAxes.push({gridIndex:gi, type:'value', min:s.y[0], max:s.y[1], name:s.yName, nameLocation:'middle', nameGap:s.yGap, nameRotate:90,
    nameTextStyle:{fontSize:10, color:'#333', fontFamily:FONT},
    axisLine:{onZero:false, lineStyle:{color:'#111', width:1.5}},
    axisTick:{customValues:s.yTicks, length:3, lineStyle:{color:'#111'}},
    axisLabel:{customValues:s.yTicks, showMinLabel:true, showMaxLabel:true, formatter:v=>v+'%', fontSize:9, color:'#4d4d4d', margin:3, fontFamily:FONT},
    splitLine:{show:false}});
  series.push({type:'scatter', xAxisIndex:xi, yAxisIndex:yi, z:2, silent:true, data:s.pts, symbolSize:6,
    itemStyle:{color:'#b0b0b0', opacity:0.85, borderColor:'#666', borderWidth:0.6}});
  series.push({type:'line', xAxisIndex:xi, yAxisIndex:yi, z:3, silent:true, data:s.fit, showSymbol:false, symbol:'none',
    lineStyle:{color:'#222', width:1.2}});
  graphics.push({type:'text', x:s.annPos[0], y:s.annPos[1], silent:true,
    style:{text:'{n|'+s.ann[0]+'}{i|p}{n|'+s.ann[1]+'}', textVerticalAlign:'middle', verticalAlign:'middle',
      rich:{n:{fontSize:12, fill:'#222', color:'#222', fontFamily:FONT}, i:{fontSize:12, fontStyle:'italic', fill:'#222', color:'#222', fontFamily:FONT}},
      fontSize:12, fill:'#222', fontFamily:FONT}});
});

// panel letters & y titles
const letters = [['a',17,4],['b',18,377],['c',16,774],['d',275,775],['e',557,774]];
letters.forEach(l=>graphics.push({type:'text', x:l[1], y:l[2], silent:true, style:{text:l[0], textAlign:'center', textVerticalAlign:'middle', align:'center', verticalAlign:'middle', fontSize:13, fontWeight:'bold', fill:'#000', fontFamily:FONT}}));
graphics.push({type:'text', x:26, y:169, rotation:Math.PI/2, silent:true, style:{text:'UNC13A IR ratio exon 31 - 32', textAlign:'center', textVerticalAlign:'middle', align:'center', verticalAlign:'middle', fontSize:12, fill:'#1a1a1a', fontFamily:FONT}});
graphics.push({type:'text', x:25, y:552, rotation:Math.PI/2, silent:true, style:{text:'{i|UNC13B}{n| IR ratio exon 21 - 22}', textAlign:'center', textVerticalAlign:'middle', align:'center', verticalAlign:'middle',
  rich:{i:{fontSize:12, fontStyle:'italic', fill:'#1a1a1a', color:'#1a1a1a', fontFamily:FONT}, n:{fontSize:12, fill:'#1a1a1a', color:'#1a1a1a', fontFamily:FONT}}, fontSize:12, fill:'#1a1a1a', fontFamily:FONT}});

const chart = echarts.init(document.getElementById('c'), null, {renderer:'canvas'});
chart.setOption({animation:false, backgroundColor:'#fff', textStyle:{fontFamily:FONT},
  grid:grids, xAxis:xAxes, yAxis:yAxes, series:series, graphic:{elements:graphics}});
</script></body></html>
